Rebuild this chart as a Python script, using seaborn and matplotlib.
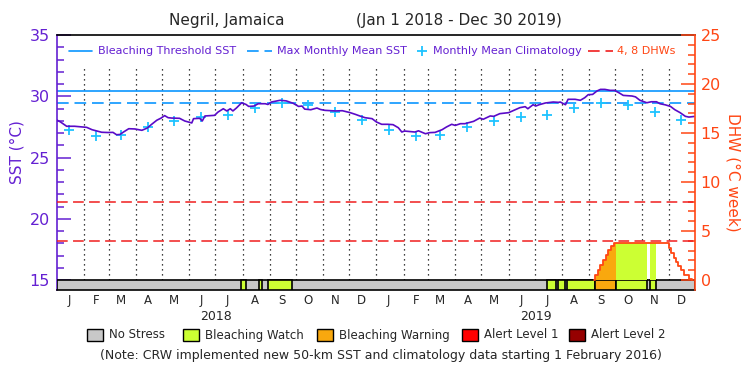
import numpy as np
import pandas as pd
import seaborn as sns
import matplotlib.pyplot as plt
import matplotlib.transforms as mtransforms
from matplotlib.lines import Line2D
from matplotlib.patches import Rectangle
from matplotlib.ticker import FixedLocator

# daily SST (days counted from Jan 1 2018)
sst_day = [0, 4, 8, 11, 20, 34, 40, 51, 58, 64, 68, 72, 76, 82, 89, 97, 103, 108, 114, 119,
           123, 127, 131, 140, 146, 154, 156, 163, 166, 169, 180, 184, 190, 194, 198, 201, 205,
           211, 216, 219, 225, 230, 238, 241, 245, 255, 262, 270, 276, 280, 283, 290, 297, 301,
           306, 318, 326, 330, 335, 341, 346, 352, 360, 365, 371, 378, 384, 390, 394, 397, 409,
           413, 421, 426, 432, 440, 445, 451, 455, 461, 466, 476, 483, 487, 495, 499, 506, 516,
           522, 529, 535, 538, 544, 547, 551, 558, 567, 573, 575, 581, 584, 592, 598, 603, 607,
           612, 617, 621, 626, 632, 637, 642, 647, 657, 661, 666, 674, 679, 685, 689, 695, 701,
           706, 712, 718, 722, 728]
sst_val = [28.05, 27.9, 27.7, 27.55, 27.55, 27.46, 27.27, 27.06, 27.04, 27.05, 26.86, 26.88,
           27.08, 27.35, 27.33, 27.22, 27.4, 27.7, 28.04, 28.22, 28.42, 28.25, 28.22, 28.2,
           27.98, 27.82, 28.17, 28.2, 27.98, 28.39, 28.44, 28.71, 28.98, 28.8, 28.98, 28.8,
           29.04, 29.47, 29.33, 29.17, 29.2, 29.39, 29.39, 29.33, 29.53, 29.67, 29.62, 29.42,
           29.17, 29.2, 28.95, 28.9, 29.04, 28.92, 28.85, 28.8, 28.82, 28.75, 28.66, 28.52,
           28.39, 28.25, 28.17, 27.9, 27.71, 27.71, 27.68, 27.43, 27.08, 27.16, 27.08, 27.18,
           26.94, 27.03, 27.05, 27.27, 27.49, 27.71, 27.62, 27.76, 27.76, 27.95, 28.22, 28.12,
           28.39, 28.36, 28.58, 28.66, 28.85, 29.07, 29.15, 28.98, 29.31, 29.2, 29.31, 29.45,
           29.53, 29.5, 29.53, 29.31, 29.75, 29.75, 29.67, 29.88, 30.13, 30.15, 30.43, 30.56,
           30.56, 30.48, 30.48, 30.29, 30.07, 30.02, 29.95, 29.67, 29.47, 29.55, 29.55, 29.39,
           29.3, 29.17, 28.9, 28.66, 28.36, 28.3, 28.35]

# monthly mean climatology (Jan..Dec)
clim_val = [27.25, 26.75, 26.85, 27.5, 28.0, 28.3, 28.45, 29.05, 29.45, 29.3, 28.75, 28.05]
mmm = 29.45
threshold = 30.45

# degree heating weeks
dhw_day = [614, 615, 618, 621, 624, 627, 630, 633, 637, 639, 674, 678, 685, 699, 702, 705,
           707, 710, 713, 716, 722, 726]
dhw_val = [0, 0.5, 1.0, 1.5, 2.0, 2.6, 3.1, 3.5, 3.75, 3.75, 3.75, 3.75, 3.75, 3.25, 2.75,
           2.25, 1.8, 1.4, 1.0, 0.5, 0.1, 0]

# stress level periods
status_start = [210, 231, 241, 560, 573, 583, 615, 639, 678]
status_end = [216, 234, 269, 570, 580, 615, 639, 674, 685]
status_level = [1, 1, 1, 1, 1, 1, 2, 1, 1]

status_names = ['No Stress', 'Bleaching Watch', 'Bleaching Warning', 'Alert Level 1', 'Alert Level 2']
status_colors = ['#c8c8c8', '#ccff33', '#f9a80e', '#ff0000', '#960000']

purple = '#6420d2'
line_purple = '#5a0ac8'
blue = '#0a96ff'
cyan = '#1ec3ff'
orange = '#ff4614'
red = '#f01e1e'

sns.set_style('white')
plt.rcParams['font.family'] = ['DejaVu Sans']

fig = plt.figure(figsize=(7.5, 3.75), dpi=100)
ax = fig.add_axes([57 / 750, 1 - 290 / 375, 638 / 750, 255 / 375])
ax2 = ax.twinx()

def fx(px):
    return px / 750

def fy(py):
    return 1 - py / 375

# month grid
t0 = pd.Timestamp('2018-01-01')
months = pd.date_range('2018-01-01', '2019-12-01', freq='MS')
month_start = (months - t0).days.values
month_mid = month_start + 14
month_letter = [m[0] for m in months.strftime('%b')]

ax.vlines(month_start[1:], 15, 32.4, colors='black', linestyles=(0, (1, 3)), lw=0.9, zorder=1)

# thresholds
ax.axhline(threshold, color=blue, lw=1.2, zorder=2)
ax.axhline(mmm, color=blue, lw=1.2, ls=(0, (7, 3.5)), zorder=2)

# SST and climatology
sns.lineplot(x=sst_day, y=sst_val, ax=ax, color=line_purple, lw=1.2, zorder=4)
clim_x = list(month_mid)
clim_y = clim_val + clim_val
sns.scatterplot(x=clim_x, y=clim_y, ax=ax, marker='+', s=50, color=cyan, linewidth=1.3, zorder=3)

# status bar
ybar0 = 14.184
ax.add_patch(Rectangle((0, ybar0), 729, 15 - ybar0, facecolor=status_colors[0],
                       edgecolor='black', lw=1.2, zorder=5))
for s, e, lev in zip(status_start, status_end, status_level):
    ax.add_patch(Rectangle((s, ybar0), e - s, 15 - ybar0, facecolor=status_colors[lev],
                           edgecolor='black', lw=1.2, zorder=6))

ax.set_xlim(0, 729)
ax.set_ylim(ybar0, 35)

# DHW axis
ax2.set_ylim(-1.02, 25)
ax2.axhline(4, color=red, lw=1.1, ls=(0, (7, 3.5)))
ax2.axhline(8, color=red, lw=1.1, ls=(0, (7, 3.5)))
d = np.array(dhw_day)
v = np.array(dhw_val)
for s, e, lev in zip(status_start, status_end, status_level):
    m = (d >= s) & (d <= e)
    if m.sum() > 1:
        ax2.fill_between(d, 0, v, where=m, step='post', color=status_colors[lev], lw=0)
sns.lineplot(x=dhw_day, y=dhw_val, ax=ax2, color=orange, lw=1.3, drawstyle='steps-post')

# axes styling
for sp in ['top', 'bottom']:
    ax.spines[sp].set_color('black')
    ax.spines[sp].set_linewidth(1.2)
ax.spines['left'].set_color(purple)
ax.spines['left'].set_linewidth(1.2)
ax.spines['right'].set_visible(False)
for sp in ['top', 'bottom', 'left']:
    ax2.spines[sp].set_visible(False)
ax2.spines['right'].set_color(orange)
ax2.spines['right'].set_linewidth(1.2)

ax.yaxis.set_major_locator(FixedLocator([15, 20, 25, 30, 35]))
ax.yaxis.set_minor_locator(FixedLocator(range(15, 36)))
ax.tick_params(axis='y', which='major', direction='in', length=10, width=1.1, color=purple,
               labelcolor=purple, labelsize=11.5, pad=5, left=True)
ax.tick_params(axis='y', which='minor', direction='in', length=5, width=1.1, color=purple, left=True)

ax2.yaxis.set_major_locator(FixedLocator([0, 5, 10, 15, 20, 25]))
ax2.yaxis.set_minor_locator(FixedLocator(range(0, 26)))
ax2.tick_params(axis='y', which='major', direction='in', length=10, width=1.1, color=orange,
                labelcolor=orange, labelsize=11.5, pad=4, right=True)
ax2.tick_params(axis='y', which='minor', direction='in', length=5, width=1.1, color=orange, right=True)

ax.set_xticks(month_mid, month_letter)
ax.tick_params(axis='x', length=0, pad=3, labelsize=8.5)
ax.set_xlabel('')
ax.set_ylabel('')
ax2.set_ylabel('')

trans = mtransforms.blended_transform_factory(ax.transData, fig.transFigure)
ax.text(182, fy(316), '2018', transform=trans, ha='center', va='center', fontsize=9)
ax.text(547, fy(316), '2019', transform=trans, ha='center', va='center', fontsize=9)

# titles and axis labels
fig.text(fx(227), fy(21), 'Negril, Jamaica', ha='center', va='center', fontsize=11)
fig.text(fx(459), fy(21), '(Jan 1 2018 - Dec 30 2019)', ha='center', va='center', fontsize=11)
fig.text(fx(17), fy(152), 'SST (°C)', rotation=90, ha='center', va='center', fontsize=11, color=purple)
fig.text(fx(733), fy(172), 'DHW (°C week)', rotation=270, ha='center', va='center', fontsize=11, color=orange)

# top legend
ly = fy(51)
fig.add_artist(Line2D([fx(69), fx(92)], [ly, ly], color=blue, lw=1.2))
fig.text(fx(98), ly, 'Bleaching Threshold SST', color=purple, fontsize=8, va='center')
fig.add_artist(Line2D([fx(247), fx(272)], [ly, ly], color=blue, lw=1.2, ls=(0, (7, 3.5))))
fig.text(fx(277), ly, 'Max Monthly Mean SST', color=purple, fontsize=8, va='center')
fig.add_artist(Line2D([fx(422)], [ly], marker='+', ms=7, mew=1.3, color=cyan, ls='none'))
fig.text(fx(433), ly, 'Monthly Mean Climatology', color=purple, fontsize=8, va='center')
fig.add_artist(Line2D([fx(588), fx(613)], [ly, ly], color=red, lw=1.2, ls=(0, (7, 3.5))))
fig.text(fx(617), ly, '4, 8 DHWs', color=orange, fontsize=8, va='center')

# status legend
box_x = [87, 183, 317, 462, 569]
for bx, name, col in zip(box_x, status_names, status_colors):
    fig.add_artist(Rectangle((fx(bx), fy(341)), 16 / 750, 12 / 375, facecolor=col,
                             edgecolor='black', lw=1, transform=fig.transFigure))
    fig.text(fx(bx + 22), fy(335), name, fontsize=8.5, va='center')

fig.text(fx(381), fy(355), '(Note: CRW implemented new 50-km SST and climatology data starting 1 February 2016)',
         ha='center', va='center', fontsize=9)

fig.savefig('out.png', dpi=100)
